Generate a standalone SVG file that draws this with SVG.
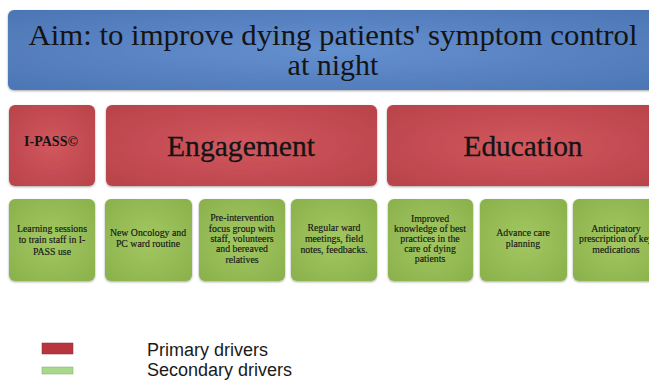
<svg xmlns="http://www.w3.org/2000/svg" width="649" height="380" viewBox="0 0 649 380">
<defs>
  <radialGradient id="gBlue" cx="50%" cy="50%" r="70%">
    <stop offset="0" stop-color="#6590cf"/>
    <stop offset="1" stop-color="#4c75b4"/>
  </radialGradient>
  <radialGradient id="gRed" cx="50%" cy="50%" r="65%">
    <stop offset="0" stop-color="#d2575e"/>
    <stop offset="1" stop-color="#b9444b"/>
  </radialGradient>
  <radialGradient id="gGreen" cx="50%" cy="50%" r="65%">
    <stop offset="0" stop-color="#a3c862"/>
    <stop offset="1" stop-color="#8cb24d"/>
  </radialGradient>
  <filter id="sh" x="-10%" y="-10%" width="120%" height="130%">
    <feDropShadow dx="0" dy="1" stdDeviation="1" flood-color="#000" flood-opacity="0.35"/>
  </filter>
</defs>
<style>
  .aim { fill: url(#gBlue); filter: url(#sh); }
  .pri { fill: url(#gRed); filter: url(#sh); }
  .sec { fill: url(#gGreen); filter: url(#sh); }
  .t { font-family: "Liberation Serif", "DejaVu Serif", serif; fill: #141414; text-anchor: middle; }
  .big { font-size: 30px; }
  .mid { font-size: 30px; stroke: #141414; stroke-width: 0.3px; }
  .sm { font-size: 9.8px; stroke: #1a1a1a; stroke-width: 0.15px; }
  .leg { font-family: "Liberation Sans", Arial, sans-serif; font-size: 18px; fill: #1a1a1a; }
</style>
<rect width="649" height="380" fill="#ffffff"/>

<g id="aim">
  <rect class="aim" x="8" y="10" width="652" height="80" rx="6"/>
  <text class="t big" x="333" y="45" textLength="609" lengthAdjust="spacingAndGlyphs">Aim: to improve dying patients' symptom control</text>
  <text class="t big" x="333" y="75">at night</text>
</g>

<g id="ipass">
  <rect class="pri" x="9" y="105" width="86" height="81" rx="6"/>
  <text class="t" x="51" y="146" font-size="14" font-weight="bold">I-PASS©</text>
</g>
<g id="engagement">
  <rect class="pri" x="106" y="105" width="271" height="81" rx="6"/>
  <text class="t mid" x="241" y="156" textLength="148" lengthAdjust="spacingAndGlyphs">Engagement</text>
</g>
<g id="education">
  <rect class="pri" x="387" y="105" width="273" height="81" rx="6"/>
  <text class="t mid" x="523" y="156" textLength="119" lengthAdjust="spacingAndGlyphs">Education</text>
</g>

<g id="s1">
  <rect class="sec" x="9" y="199" width="86" height="82" rx="6"/>
  <text class="t sm" x="52" y="232">Learning sessions</text>
  <text class="t sm" x="52" y="243">to train staff in I-</text>
  <text class="t sm" x="52" y="255">PASS use</text>
</g>
<g id="s2">
  <rect class="sec" x="105" y="199" width="87" height="82" rx="6"/>
  <text class="t sm" x="148" y="236">New Oncology and</text>
  <text class="t sm" x="148" y="247">PC ward routine</text>
</g>
<g id="s3">
  <rect class="sec" x="199" y="199" width="86" height="82" rx="6"/>
  <text class="t sm" x="242" y="221">Pre-intervention</text>
  <text class="t sm" x="242" y="231.5">focus group with</text>
  <text class="t sm" x="242" y="242">staff, volunteers</text>
  <text class="t sm" x="242" y="252">and bereaved</text>
  <text class="t sm" x="242" y="262.5">relatives</text>
</g>
<g id="s4">
  <rect class="sec" x="291" y="199" width="86" height="82" rx="6"/>
  <text class="t sm" x="334" y="231">Regular ward</text>
  <text class="t sm" x="334" y="242">meetings, field</text>
  <text class="t sm" x="334" y="253">notes, feedbacks.</text>
</g>
<g id="s5">
  <rect class="sec" x="388" y="199" width="85" height="82" rx="6"/>
  <text class="t sm" x="430" y="221.5">Improved</text>
  <text class="t sm" x="430" y="232">knowledge  of best</text>
  <text class="t sm" x="430" y="242">practices in the</text>
  <text class="t sm" x="430" y="252">care of dying</text>
  <text class="t sm" x="430" y="262">patients</text>
</g>
<g id="s6">
  <rect class="sec" x="480" y="199" width="87" height="82" rx="6"/>
  <text class="t sm" x="523" y="236">Advance care</text>
  <text class="t sm" x="523" y="247">planning</text>
</g>
<g id="s7">
  <rect class="sec" x="573" y="199" width="87" height="82" rx="6"/>
  <text class="t sm" x="616" y="232">Anticipatory</text>
  <text class="t sm" x="616" y="242">prescription of key</text>
  <text class="t sm" x="616" y="253">medications</text>
</g>

<g id="connectors"></g>

<g id="legend">
  <rect x="42" y="343" width="31" height="11" fill="#b8343f" stroke="#8a2a30" stroke-width="0.5"/>
  <rect x="42" y="367" width="31" height="7" fill="#a9d88a" stroke="#7fa868" stroke-width="0.5"/>
  <text class="leg" x="147" y="356">Primary drivers</text>
  <text class="leg" x="147" y="376">Secondary drivers</text>
</g>
</svg>
